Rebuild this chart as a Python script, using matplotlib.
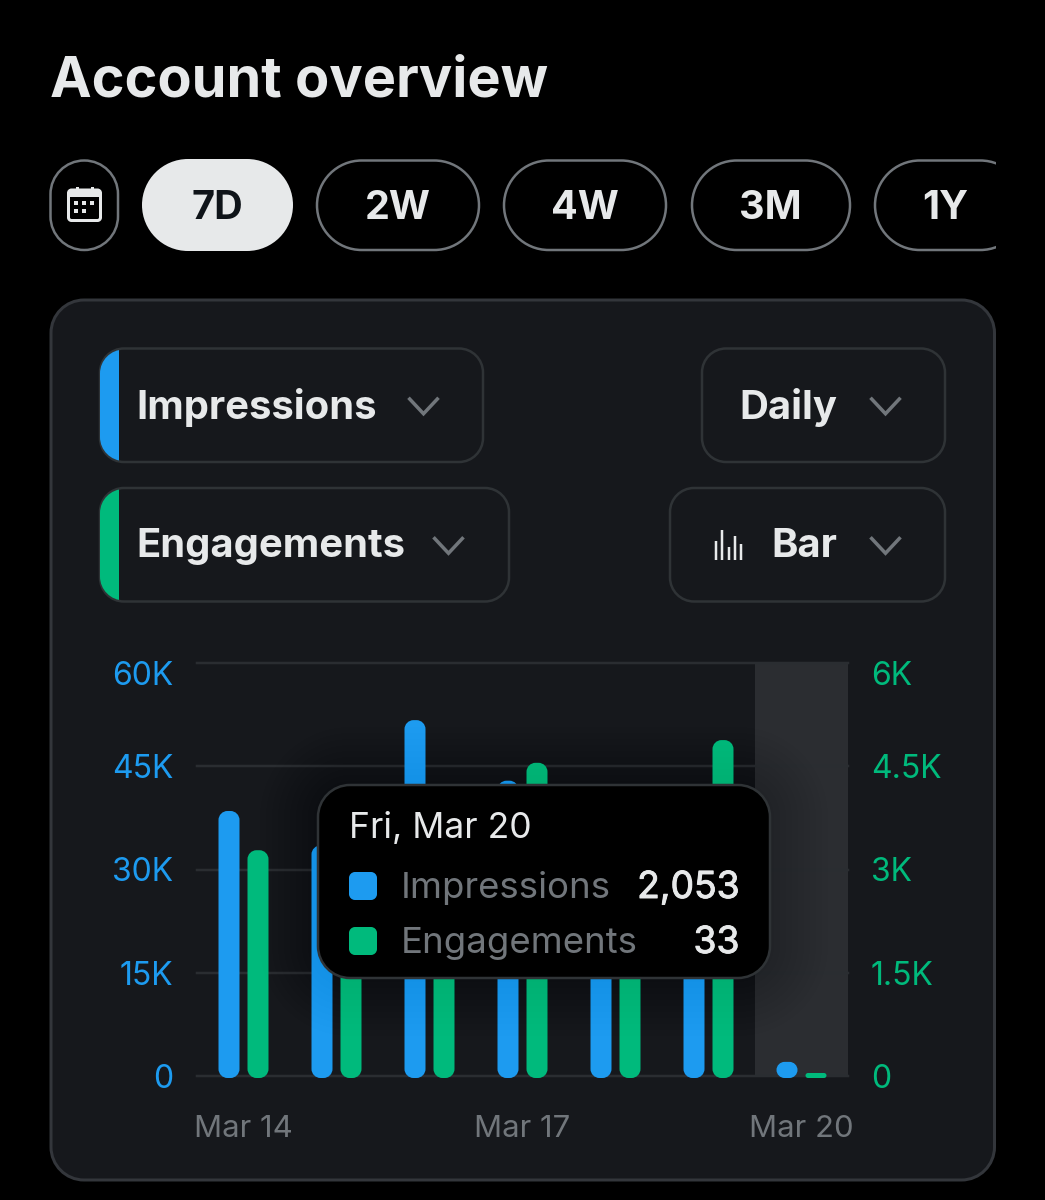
import matplotlib
matplotlib.use("Agg")
import matplotlib.pyplot as plt
import matplotlib.patheffects as pe
from matplotlib.patches import PathPatch, Rectangle
from matplotlib.path import Path
from matplotlib.transforms import ScaledTranslation

plt.rcParams['font.family'] = ['Inter', 'DejaVu Sans']

# ---------- data ----------
days = ["Mar 14", "Mar 15", "Mar 16", "Mar 17", "Mar 18", "Mar 19", "Mar 20"]
impressions = [38500, 33500, 51700, 42900, 30000, 35000, 2053]
engagements = [3280, 2900, 2500, 4550, 3200, 4880, 33]
left_ticks = [0, 15000, 30000, 45000, 60000]
left_labels = ["0", "15K", "30K", "45K", "60K"]
right_ticks = [0, 1500, 3000, 4500, 6000]
right_labels = ["0", "1.5K", "3K", "4.5K", "6K"]
shown_days = ["Mar 14", "Mar 17", "Mar 20"]
range_labels = ["7D", "2W", "4W", "3M", "1Y"]
tip_title = "Fri, Mar 20"
tip_rows = [("Impressions", "2,053"), ("Engagements", "33")]

# ---------- style ----------
W, H = 1045, 1200
BLUE, GREEN = "#1D9BF0", "#00BA7C"
CARD, EDGE, GREY = "#16181C", "#2F3336", "#71767B"
LIGHT = "#E7E9EA"
PX = 72 / 100  # one pixel in points
K = 0.5523

fig = plt.figure(figsize=(W / 100, H / 100), dpi=100, facecolor="black")


def full_axes(z):
    a = fig.add_axes([0, 0, 1, 1], zorder=z)
    a.set_xlim(0, W)
    a.set_ylim(H, 0)
    a.axis("off")
    return a


def round_path(x0, y0, x1, y1, rx, ry):
    """Rectangle with true elliptical corners (y0 < y1 in the path's own units)."""
    cx, cy = rx * (1 - K), ry * (1 - K)
    verts = [(x0 + rx, y0), (x1 - rx, y0),
             (x1 - cx, y0), (x1, y0 + cy), (x1, y0 + ry),
             (x1, y1 - ry),
             (x1, y1 - cy), (x1 - cx, y1), (x1 - rx, y1),
             (x0 + rx, y1),
             (x0 + cx, y1), (x0, y1 - cy), (x0, y1 - ry),
             (x0, y0 + ry),
             (x0, y0 + cy), (x0 + cx, y0), (x0 + rx, y0),
             (x0 + rx, y0)]
    codes = [Path.MOVETO, Path.LINETO,
             Path.CURVE4, Path.CURVE4, Path.CURVE4,
             Path.LINETO,
             Path.CURVE4, Path.CURVE4, Path.CURVE4,
             Path.LINETO,
             Path.CURVE4, Path.CURVE4, Path.CURVE4,
             Path.LINETO,
             Path.CURVE4, Path.CURVE4, Path.CURVE4,
             Path.CLOSEPOLY]
    return Path(verts, codes)


def rbox(a, x0, y0, x1, y1, r, fc="none", ec="none", lw=0, **kw):
    p = PathPatch(round_path(x0, y0, x1, y1, r, r), fc=fc, ec=ec, lw=lw * PX, **kw)
    a.add_patch(p)
    return p


ui = full_axes(0)

# title
ui.text(50, 96.5, "Account overview", color=LIGHT, fontsize=40.2,
        fontweight="bold", va="baseline", ha="left")

# calendar pill
rbox(ui, 50.5, 160.5, 118, 250, 33.7, ec=GREY, lw=2.5)
rbox(ui, 68.5, 190, 100.5, 220.5, 3, ec=LIGHT, lw=3)
ui.add_patch(Rectangle((68.5, 190), 32, 7, fc=LIGHT, ec="none"))
for cx in (77, 92):
    ui.add_patch(Rectangle((cx - 1.5, 187), 3, 6, fc=LIGHT, ec="none"))
for cx, cy in [(76, 203), (84, 203), (92, 203), (76, 211), (84, 211)]:
    ui.add_patch(Rectangle((cx - 2, cy - 2), 4, 4, fc=LIGHT, ec="none"))

# range pills
clip = Rectangle((0, 0), 996, H, transform=ui.transData)
pills = [(142, 293), (317, 479), (504, 666), (692, 850), (875, 1025)]
centers = [217.5, 397.5, 585, 770, 945]
for i, (lab, (x0, x1), c) in enumerate(zip(range_labels, pills, centers)):
    if i == 0:
        rbox(ui, x0, 159, x1, 251, 46, fc=LIGHT)
    else:
        rbox(ui, x0, 160.5, x1, 250, 44.7, ec=GREY, lw=2.5).set_clip_path(clip)
    ui.text(c, 208.5, lab, color="#0F1419" if i == 0 else LIGHT, fontsize=28.5,
            fontweight="bold", ha="center", va="center")

# card
rbox(ui, 51, 300, 994.5, 1180, 33, fc=CARD, ec="#33363B", lw=3)


def chevron(cx, cy):
    ui.plot([cx - 15, cx, cx + 15], [cy - 8, cy + 8, cy - 8], color=GREY,
            lw=3.5 * PX, solid_capstyle="butt", solid_joinstyle="miter")


def selector(x0, y0, x1, y1, label, tx, chev, colour=None):
    rbox(ui, x0, y0, x1, y1, 24, ec=EDGE, lw=2.5)
    if colour:
        clipper = rbox(ui, x0, y0 + 1, x1, y1 - 1, 24)
        bar = Rectangle((x0, y0), 19, y1 - y0, fc=colour, ec="none", zorder=3)
        ui.add_patch(bar)
        bar.set_clip_path(clipper)
    ui.text(tx, (y0 + y1) / 2 + 2, label, color=LIGHT, fontsize=28.8, fontweight="bold",
            ha="left", va="center")
    chevron(chev, (y0 + y1) / 2 + 0.5)


selector(100, 348.5, 483, 462, "Impressions", 136.5, 423.5, BLUE)
selector(100, 488, 509, 601.5, "Engagements", 136.5, 448.5, GREEN)
selector(702, 348.5, 945, 462, "Daily", 739.5, 885.5)
selector(670, 488, 945, 601.5, "Bar", 771.5, 885.5)
for bx, top in zip((715.5, 722, 728.5, 735, 741), (541, 530, 547, 536, 544)):
    ui.plot([bx, bx], [560, top], color=LIGHT, lw=2.5 * PX, solid_capstyle="butt")

# ---------- chart ----------
AX_L, AX_R, AX_T, AX_B = 197, 848, 663, 1076
ax = fig.add_axes([AX_L / W, 1 - AX_B / H, (AX_R - AX_L) / W, (AX_B - AX_T) / H], zorder=1)
ax.patch.set_visible(False)
ax2 = ax.twinx()
ax2.set_zorder(2)
ax2.patch.set_visible(False)

n = len(days)
xs = list(range(n))
ax.set_xlim(-0.5, n - 0.5)
ax.set_ylim(left_ticks[0], left_ticks[-1])
ax2.set_ylim(right_ticks[0], right_ticks[-1])

ax.grid(axis="y", color="#2A2D31", lw=2.5 * PX, zorder=0, clip_on=False)
for gl in ax.get_ygridlines():
    gl.set_clip_on(False)
ax.axvspan(n - 1.5, n - 0.5, color="#2B2D31", lw=0, zorder=0.5)

SLOT = (AX_R - AX_L) / n
BAR_OFF, BAR_W = 14.5 / SLOT, 21 / SLOT


def rounded_bars(a, positions, values, colour, top):
    pxy = (AX_B - AX_T) / top          # pixels per data unit
    for x, v in zip(positions, values):
        h_px = max(v * pxy, 3) + 2     # small overhang below the baseline, minimum visible height
        r_px = min(9, h_px / 2)
        path = round_path(x - BAR_W / 2, -2 / pxy, x + BAR_W / 2, (h_px - 2) / pxy,
                          r_px / SLOT, r_px / pxy)
        a.add_patch(PathPatch(path, fc=colour, ec="none", clip_on=False, zorder=3))


rounded_bars(ax, [x - BAR_OFF for x in xs], impressions, BLUE, left_ticks[-1])
rounded_bars(ax2, [x + BAR_OFF for x in xs], engagements, GREEN, right_ticks[-1])

for s in list(ax.spines.values()) + list(ax2.spines.values()):
    s.set_visible(False)
ax.set_xticks([days.index(d) for d in shown_days], shown_days)
ax.tick_params(axis="x", length=0, pad=28, labelsize=22.4, labelcolor=GREY)
ax.set_yticks(left_ticks, left_labels)
ax.tick_params(axis="y", length=0, pad=17, labelsize=23, labelcolor=BLUE)
ax2.set_yticks(right_ticks, right_labels)
ax2.tick_params(axis="y", length=0, pad=16.3, labelsize=23, labelcolor=GREEN)
shift = ScaledTranslation(0, -10 / 100, fig.dpi_scale_trans)
for lab in (ax.get_yticklabels()[-1], ax2.get_yticklabels()[-1]):
    lab.set_transform(lab.get_transform() + shift)

# ---------- tooltip ----------
tip = full_axes(5)
TX0, TY0, TX1, TY1 = 318, 785, 770, 978
for grow in range(4, 64, 6):
    rbox(tip, TX0 - grow, TY0 - grow, TX1 + grow, TY1 + grow, 32 + grow,
         fc="black", alpha=0.005)
rbox(tip, TX0, TY0, TX1, TY1, 32, fc="black", ec="#2F3336", lw=2.5)
tip.text(349, 829, tip_title, color=LIGHT, fontsize=25.6, ha="left", va="center")
medium = [pe.withStroke(linewidth=0.7, foreground=LIGHT)]
for (name, val), c, y in zip(tip_rows, (BLUE, GREEN), (886, 941)):
    rbox(tip, 349, y - 14, 377, y + 14, 6, fc=c)
    tip.text(401, y + 2, name, color=GREY, fontsize=26.3, ha="left", va="center")
    tip.text(739.5, y + 2, val, color=LIGHT, fontsize=26.8, ha="right", va="center",
             path_effects=medium)

fig.savefig("out.png", dpi=100, facecolor=fig.get_facecolor())
